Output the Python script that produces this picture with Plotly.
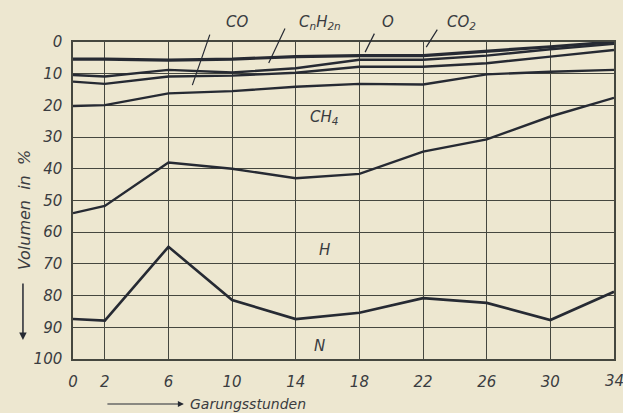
import plotly.graph_objects as go

hours = [0, 2, 6, 10, 14, 18, 22, 26, 30, 34]
# cumulative boundaries (Volumen in %, measured from top)
line_co2 = [5.4, 5.4, 5.7, 5.4, 4.6, 4.3, 4.3, 3.0, 1.5, 0.0]
line_o = [10.4, 10.9, 8.8, 9.6, 8.3, 5.6, 5.6, 4.3, 2.3, 0.6]
line_cnh2n = [12.5, 13.2, 10.9, 10.6, 9.7, 7.8, 7.8, 6.7, 4.6, 2.5]
line_co = [20.2, 19.9, 16.2, 15.5, 14.1, 13.2, 13.4, 10.2, 9.4, 8.8]
line_ch4 = [54.0, 51.7, 38.0, 40.0, 43.0, 41.6, 34.6, 30.7, 23.5, 17.6]
line_h = [87.4, 87.9, 64.6, 81.4, 87.4, 85.4, 80.8, 82.3, 87.7, 78.8]

x_ticks = [0, 2, 6, 10, 14, 18, 22, 26, 30, 34]
y_ticks = [0, 10, 20, 30, 40, 50, 60, 70, 80, 90, 100]

BG = "#ede7d0"
INK = "#262a33"
GRID = "#45473f"
FONT = dict(family="DejaVu Sans", size=15, color="#3a3c40", style="italic")

fig = go.Figure()
series = [line_co2, line_o, line_cnh2n, line_co, line_ch4, line_h]
widths = [3.2, 2.4, 2.4, 2.4, 2.4, 2.6]
for s, w in zip(series, widths):
    fig.add_trace(go.Scatter(x=hours, y=s, mode="lines",
                             line=dict(color=INK, width=w), showlegend=False,
                             hoverinfo="skip"))

anns = []
# gas labels above the plot (paper coords)
top_labels = [("CO", 0.303), ("C<sub>n</sub>H<sub>2n</sub>", 0.457),
              ("O", 0.582), ("CO<sub>2</sub>", 0.719)]
for t, x in top_labels:
    anns.append(dict(x=x, y=1.063, xref="paper", yref="paper", text=t,
                     xanchor="center", yanchor="middle",
                     showarrow=False, font=FONT))
# gas labels inside plot
labels = [("CH<sub>4</sub>", 15.8, 23.7), ("H", 15.8, 65.6), ("N", 15.5, 96.0)]
for t, x, y in labels:
    anns.append(dict(x=x, y=y, xref="x", yref="y", text=t, showarrow=False,
                     xanchor="center", yanchor="middle", font=FONT))
# pointers
pointers = [(7.5, 13.6, 18, -52), (12.3, 6.6, 17, -36),
            (18.36, 3.2, 10, -20), (22.2, 1.6, 12, -19)]
for x, y, ax, ay in pointers:
    anns.append(dict(x=x, y=y, xref="x", yref="y", text="", showarrow=True,
                     arrowhead=0, arrowwidth=1.2, arrowcolor=INK,
                     ax=ax, ay=ay, axref="pixel", ayref="pixel"))
# last x tick label (overflows the right edge, as in the original)
anns.append(dict(x=x_ticks[-1], y=-0.069, xref="x", yref="paper",
                 text=str(x_ticks[-1]), showarrow=False,
                 xanchor="center", yanchor="middle", font=FONT))
# y axis title
anns.append(dict(x=-0.0906, y=0.47, xref="paper", yref="paper",
                 text="Volumen  in  %", textangle=-90, showarrow=False,
                 xanchor="center", yanchor="middle",
                 font=dict(family="DejaVu Sans", size=16, color="#3a3c40",
                           style="italic")))
anns.append(dict(x=-0.0925, y=0.06, xref="paper", yref="paper", text="",
                 showarrow=True, arrowhead=2, arrowsize=1, arrowwidth=1.5,
                 arrowcolor=INK, ax=0, ay=-58))
# x axis title
anns.append(dict(x=0.213, y=-0.142, xref="paper", yref="paper",
                 text="Garungsstunden", xanchor="left", yanchor="middle",
                 showarrow=False,
                 font=dict(family="DejaVu Sans", size=14, color="#3a3c40",
                           style="italic")))
anns.append(dict(x=0.205, y=-0.142, xref="paper", yref="paper", text="",
                 showarrow=True, arrowhead=2, arrowsize=1, arrowwidth=1.2,
                 arrowcolor=INK, ax=-78, ay=0))

x_text = [str(v) for v in x_ticks[:-1]] + [""]

fig.update_layout(
    width=623, height=413,
    margin=dict(l=73, r=9, t=42, b=54),
    paper_bgcolor=BG, plot_bgcolor=BG,
    annotations=anns,
    xaxis=dict(range=[0, 34], tickvals=x_ticks, ticktext=x_text,
               showgrid=True, gridcolor=GRID, gridwidth=1,
               showline=True, linecolor=GRID, linewidth=1.5, mirror=True,
               zeroline=False, ticks="outside", ticklen=8, tickcolor=BG,
               tickfont=FONT, automargin=False),
    yaxis=dict(range=[100, 0], tickvals=y_ticks,
               showgrid=True, gridcolor=GRID, gridwidth=1,
               showline=True, linecolor=GRID, linewidth=1.5, mirror=True,
               zeroline=False, ticks="outside", ticklen=6, tickcolor=BG,
               tickfont=FONT, automargin=False),
)

fig.write_html("out.html", config={"displayModeBar": False},
               post_script="document.body.style.margin='0';document.body.style.background='%s';" % BG)
